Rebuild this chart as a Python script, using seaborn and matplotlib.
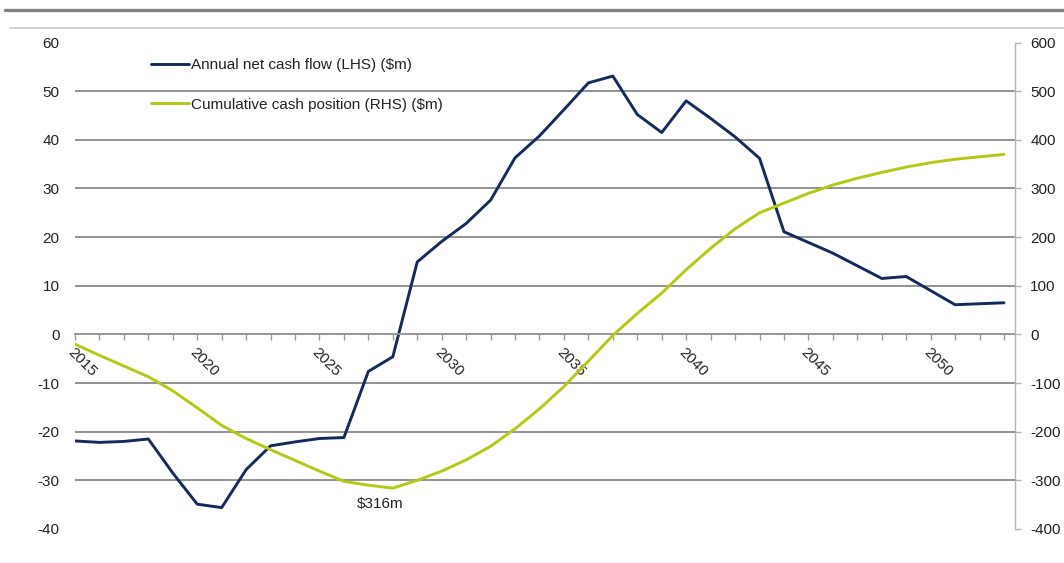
import matplotlib
matplotlib.use("Agg")
import matplotlib.pyplot as plt
import seaborn as sns
import pandas as pd
from matplotlib.lines import Line2D

# ---------------- data ----------------
years = list(range(2015, 2054))
annual_net_cash_flow = [
    -21.9, -22.2, -22.0, -21.5, -28.5, -34.9, -35.6, -27.8, -22.9, -22.1,
    -21.4, -21.2, -7.6, -4.6, 14.9, 19.1, 22.8, 27.6, 36.3, 40.8,
    46.2, 51.7, 53.1, 45.2, 41.5, 48.0, 44.4, 40.6, 36.2, 21.1,
    18.9, 16.7, 14.1, 11.5, 11.9, 9.0, 6.1, 6.3, 6.5,
]
cumulative_cash_position = [
    -20, -43, -65, -87, -116, -151, -187, -214, -237, -259,
    -281, -302, -310, -316, -300, -281, -258, -230, -194, -153,
    -107, -55, -2, 43, 85, 133, 177, 217, 250, 270,
    290, 307, 321, 333, 344, 353, 360, 365, 370,
]
left_ticks = [-40, -30, -20, -10, 0, 10, 20, 30, 40, 50, 60]
right_ticks = [-400, -300, -200, -100, 0, 100, 200, 300, 400, 500, 600]
right_tick_labels = ["-400", "-300", "-200", "-100", "0", "100", "200", "300", "400", "500", "600"]
label_years = [2015, 2020, 2025, 2030, 2035, 2040, 2045, 2050]
series_labels = ["Annual net cash flow (LHS) (\\$m)", "Cumulative cash position (RHS) (\\$m)"]
min_label = "\\$316m"

NAVY = "#152a5c"
GREEN = "#b5c814"
GRID = "#8a8a8a"
TEXT = "#222222"
FS = 11

sns.set_theme(style="white")
plt.rcParams["font.family"] = ["Liberation Sans", "DejaVu Sans"]
plt.rcParams["axes.unicode_minus"] = False

W, H = 1064, 563
fig = plt.figure(figsize=(W / 100, H / 100), dpi=100)
ax = fig.add_axes([75 / W, 1 - 529 / H, 940 / W, (529 - 42.5) / H])
ax2 = ax.twinx()
ax2.patch.set_visible(False)

df = pd.DataFrame({"year": years, "annual": annual_net_cash_flow,
                   "cumulative": cumulative_cash_position})

sns.lineplot(data=df, x="year", y="annual", ax=ax, color=NAVY, linewidth=2.1, legend=False)
sns.lineplot(data=df, x="year", y="cumulative", ax=ax2, color=GREEN, linewidth=2.1, legend=False)

ax.set_xlim(2015, 2053.45)
ax.set_ylim(-40, 60)
ax2.set_ylim(-400, 600)
for a in (ax, ax2):
    a.set_xlabel("")
    a.set_ylabel("")

# left axis
ax.set_yticks(left_ticks)
ax.tick_params(axis="y", length=0, pad=11, labelsize=FS, labelcolor=TEXT)
ax.grid(axis="y", color=GRID, linewidth=1.3)
ax.grid(axis="x", visible=False)
yt = ax.yaxis.get_major_ticks()
yt[0].gridline.set_visible(False)
yt[-1].gridline.set_visible(False)
for s in ("left", "top", "right"):
    ax.spines[s].set_visible(False)
ax.spines["bottom"].set_position(("data", 0))
ax.spines["bottom"].set_color("#9a9a9a")
ax.spines["bottom"].set_linewidth(1.3)

# x axis
ax.set_xticks(years)
ax.set_xticklabels([str(y) if y in label_years else "" for y in years],
                   rotation=-45, ha="left", va="top", rotation_mode="anchor")
ax.tick_params(axis="x", direction="out", length=4, width=1, color="#9a9a9a",
               pad=4, labelsize=FS, labelcolor=TEXT, bottom=True)

# right axis
ax2.set_yticks(right_ticks)
ax2.set_yticklabels(right_tick_labels)
ax2.tick_params(axis="y", direction="out", length=4, width=1, color="#b5b5b5",
                pad=7, labelsize=FS, labelcolor=TEXT)
for s in ("left", "top", "bottom"):
    ax2.spines[s].set_visible(False)
ax2.spines["right"].set_color("#b5b5b5")
ax2.spines["right"].set_linewidth(1.0)
ax2.grid(False)

# annotation of minimum
ax2.text(2027.5, -348, min_label, ha="center", va="center", fontsize=FS, color=TEXT)

# legend
handles = [Line2D([], [], color=NAVY, linewidth=2.1), Line2D([], [], color=GREEN, linewidth=2.1)]
fig.legend(handles, series_labels, loc="upper left",
           bbox_to_anchor=(151 / W, 1 - 58 / H), bbox_transform=fig.transFigure,
           frameon=False, fontsize=FS, handlelength=2.5, handletextpad=0.1,
           labelspacing=1.68, borderpad=0, borderaxespad=0, labelcolor=TEXT)

# top decorative rules
fig.add_artist(Line2D([5 / W, 1], [1 - 10 / H] * 2, color="#7f7f7f", linewidth=2.4,
                      transform=fig.transFigure))
fig.add_artist(Line2D([10 / W, 1], [1 - 28 / H] * 2, color="#cfcfcf", linewidth=1.3,
                      transform=fig.transFigure))

fig.savefig("out.png", dpi=100, facecolor="white")
